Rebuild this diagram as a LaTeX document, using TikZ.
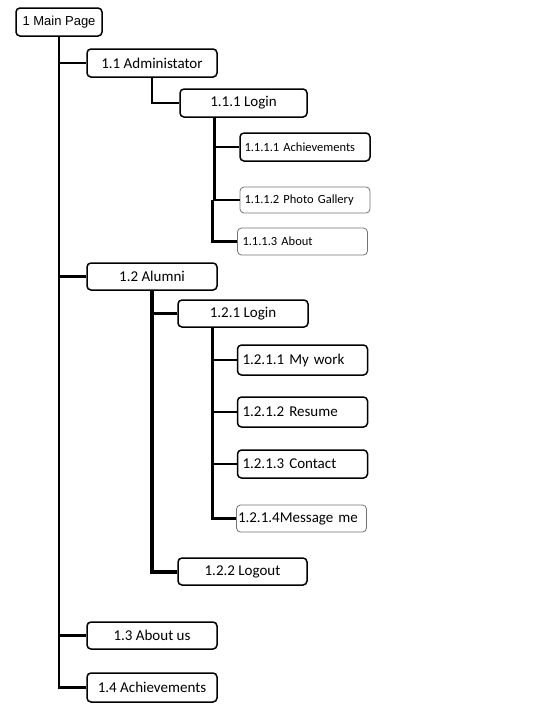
\documentclass[tikz,border=0pt]{standalone}
\usepackage{fontspec}
\setmainfont{Carlito}
\newfontfamily\arialfont{Liberation Sans}
\usetikzlibrary{positioning}

\tikzset{
  box/.style={draw, line width=1.5pt, rounded corners=4pt, minimum width=130pt, minimum height=28pt, inner sep=0pt, font=\fontsize{15}{17}\selectfont},
  leaf/.style={box, text width=121pt, align=left, inner xsep=4pt},
  faint/.style={draw=black!55, line width=0.8pt},
  link/.style={line width=2.6pt}
}

\begin{document}
\begin{tikzpicture}[x=1pt, y=-1pt]
          \useasboundingbox (0,0) rectangle (533,728);
          % level 1
          \node[box, minimum width=86pt, font=\arialfont\fontsize{13}{15}\selectfont] (main) at (59,22) {1 Main Page};
          \node[box] (admin) at (152,63) {1.1 Administator};
          \node[box, minimum height=27pt] (alumni) at (152,276.5) {1.2 Alumni};
          \node[box, minimum height=27pt] (aboutus) at (152,635.5) {1.3 About us};
          \node[box, minimum height=29pt] (achieve) at (152,687.5) {1.4 Achievements};
          % administrator part
          \node[box, minimum width=127pt] (adlogin) at (243.5,103) {1.1.1 Login};
          \node[leaf, font=\fontsize{12.5}{14}\selectfont] (adach) at (305,147) {1.1.1.1 Achievements};
          \node[leaf, faint, minimum height=26pt, font=\fontsize{12.5}{14}\selectfont] (adphoto) at (305,200) {1.1.1.2 Photo Gallery};
          \node[leaf, faint, text width=120pt, minimum height=27pt, font=\fontsize{12.5}{14}\selectfont] (adabout) at (302.5,241.5) {1.1.1.3 About};
          % alumni part
          \node[box, minimum height=27pt] (allogin) at (243,313.5) {1.2.1 Login};
          \node[leaf, text width=120pt, minimum height=30pt, inner xsep=5pt] (work) at (302.5,360) {1.2.1.1 My work};
          \node[leaf, text width=120pt, minimum height=30pt, inner xsep=5pt] (resume) at (302.5,412) {1.2.1.2 Resume};
          \node[leaf, text width=120pt, inner xsep=5pt] (contact) at (302.5,464) {1.2.1.3 Contact};
          \node[leaf, faint, text width=127pt, minimum height=27pt, inner xsep=1pt] (message) at (301.5,518.5) {1.2.1.4Message me};
          \node[box, minimum width=129pt, minimum height=27pt] (logout) at (242.5,571.5) {1.2.2 Logout};

          % trunk
          \draw[link] (main.south) |- (achieve.west);
          \foreach \n in {admin,alumni,aboutus}
            \draw[link] (main.south |- \n.west) -- (\n.west);
          \draw[link] (admin.south) |- (adlogin.west);
          \coordinate (adstem) at ([xshift=35pt]adlogin.south west);
          \draw[link] (adstem) |- (adphoto.west);
          \draw[link] (adstem |- adach.west) -- (adach.west);
          \draw[link] ([xshift=-2pt]adstem |- adphoto.west) |- (adabout.west);
          \draw[line width=4pt] (alumni.south) |- (logout.west);
          \draw[link] (alumni.south |- allogin.west) -- (allogin.west);
          \coordinate (alstem) at ([xshift=35pt]allogin.south west);
          \draw[link] (alstem) |- (message.west);
          \foreach \n in {work,resume,contact}
            \draw[link] (alstem |- \n.west) -- (\n.west);
        \end{tikzpicture}
\end{document}
